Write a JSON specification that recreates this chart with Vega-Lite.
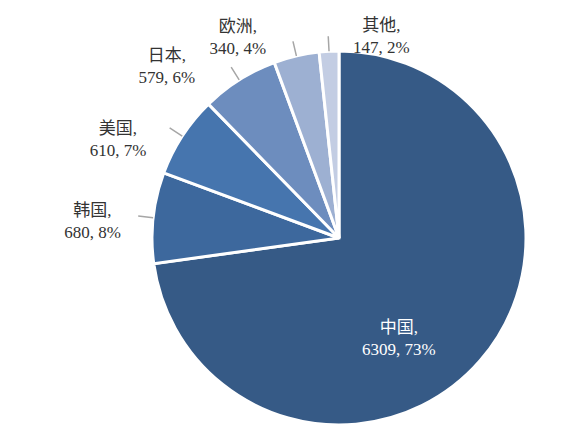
{
  "$schema": "https://vega.github.io/schema/vega-lite/v6.json",
  "width": 482,
  "height": 394,
  "autosize": "none",
  "padding": {"left": 98, "top": 41, "right": 0, "bottom": 0},
  "background": "white",
  "config": {"view": {"stroke": null}},
  "data": {
    "values": [
      {"idx": 1, "region": "中国", "value": 6309, "label": "中国,\n6309, 73%"},
      {"idx": 2, "region": "韩国", "value": 680, "label": "韩国,\n680, 8%"},
      {"idx": 3, "region": "美国", "value": 610, "label": "美国,\n610, 7%"},
      {"idx": 4, "region": "日本", "value": 579, "label": "日本,\n579, 6%"},
      {"idx": 5, "region": "欧洲", "value": 340, "label": "欧洲,\n340, 4%"},
      {"idx": 6, "region": "其他", "value": 147, "label": "其他,\n147, 2%"}
    ]
  },
  "encoding": {
    "theta": {"field": "value", "type": "quantitative", "stack": true},
    "order": {"field": "idx", "type": "quantitative"},
    "detail": {"field": "region", "type": "nominal"}
  },
  "layer": [
    {
      "mark": {"type": "arc", "outerRadius": 187, "stroke": "white", "strokeWidth": 3},
      "encoding": {
        "color": {
          "field": "region", "type": "nominal", "sort": null, "legend": null,
          "scale": {
            "domain": ["中国", "韩国", "美国", "日本", "欧洲", "其他"],
            "range": ["#365A86", "#3D689D", "#4675AE", "#6D8DBE", "#9DB0D2", "#C3CDE3"]
          }
        }
      }
    },
    {
      "mark": {"type": "arc", "innerRadius": 187, "outerRadius": 202, "padAngle": 3, "fillOpacity": 0, "stroke": "#a6a6a6", "strokeWidth": 1.5},
      "encoding": {
        "strokeOpacity": {"condition": {"test": "datum.region === '中国'", "value": 0}, "value": 1}
      }
    },
    {
      "mark": {"type": "text", "radius": 110, "dx": -23, "dy": 18, "align": "center", "baseline": "middle", "lineBreak": "\n", "lineHeight": 22, "font": "Liberation Serif, Noto Sans CJK SC", "fontSize": 17, "fill": "white"},
      "encoding": {"text": {"condition": {"test": "datum.region === '中国'", "field": "label", "type": "nominal"}, "value": ""}}
    },
    {
      "mark": {"type": "text", "radius": 247, "dx": -1, "dy": 0, "align": "center", "baseline": "middle", "lineBreak": "\n", "lineHeight": 22, "font": "Liberation Serif, Noto Sans CJK SC", "fontSize": 17, "fill": "#333333"},
      "encoding": {"text": {"condition": {"test": "datum.region === '韩国'", "field": "label", "type": "nominal"}, "value": ""}}
    },
    {
      "mark": {"type": "text", "radius": 241, "dx": -19, "dy": 22, "align": "center", "baseline": "middle", "lineBreak": "\n", "lineHeight": 22, "font": "Liberation Serif, Noto Sans CJK SC", "fontSize": 17, "fill": "#333333"},
      "encoding": {"text": {"condition": {"test": "datum.region === '美国'", "field": "label", "type": "nominal"}, "value": ""}}
    },
    {
      "mark": {"type": "text", "radius": 242, "dx": -43, "dy": 23, "align": "center", "baseline": "middle", "lineBreak": "\n", "lineHeight": 22, "font": "Liberation Serif, Noto Sans CJK SC", "fontSize": 17, "fill": "#333333"},
      "encoding": {"text": {"condition": {"test": "datum.region === '日本'", "field": "label", "type": "nominal"}, "value": ""}}
    },
    {
      "mark": {"type": "text", "radius": 220, "dx": -51, "dy": 3, "align": "center", "baseline": "middle", "lineBreak": "\n", "lineHeight": 22, "font": "Liberation Serif, Noto Sans CJK SC", "fontSize": 17, "fill": "#333333"},
      "encoding": {"text": {"condition": {"test": "datum.region === '欧洲'", "field": "label", "type": "nominal"}, "value": ""}}
    },
    {
      "mark": {"type": "text", "radius": 200, "dx": 53, "dy": -12, "align": "center", "baseline": "middle", "lineBreak": "\n", "lineHeight": 22, "font": "Liberation Serif, Noto Sans CJK SC", "fontSize": 17, "fill": "#333333"},
      "encoding": {"text": {"condition": {"test": "datum.region === '其他'", "field": "label", "type": "nominal"}, "value": ""}}
    }
  ]
}
